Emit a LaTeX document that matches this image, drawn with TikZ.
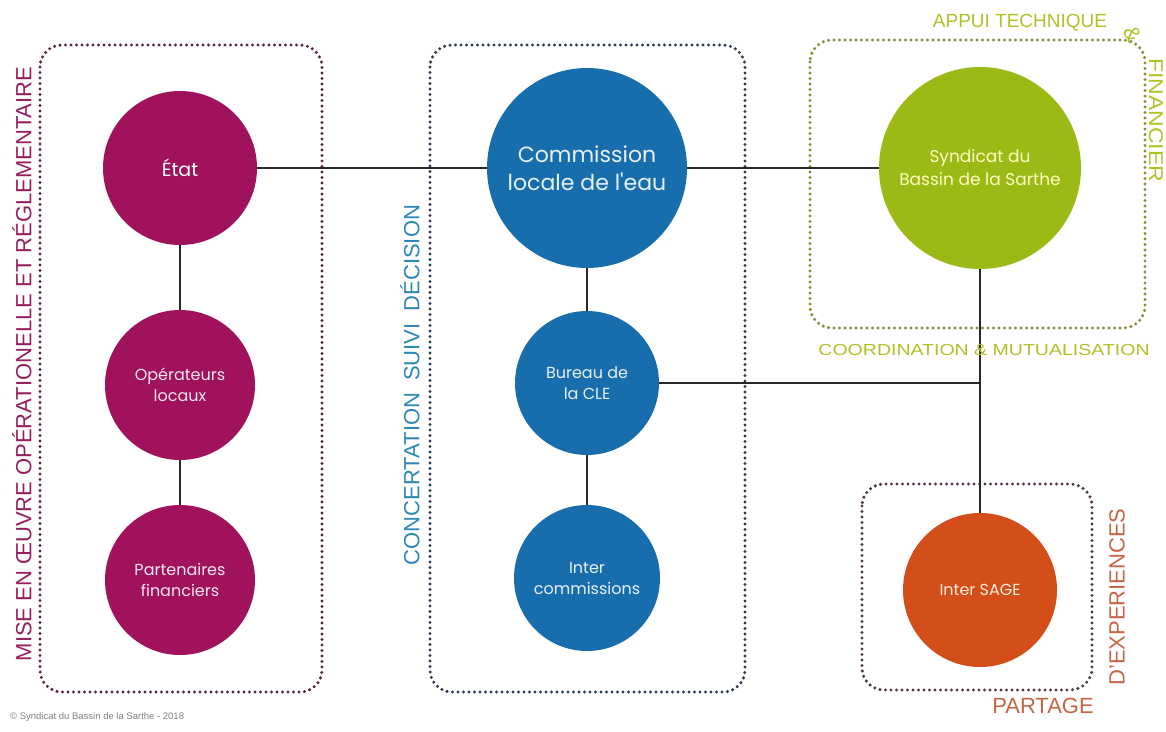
\documentclass[tikz,border=0pt]{standalone}
\usepackage{fontspec}
\setmainfont{Liberation Sans}
\newfontfamily\circfont{Poppins}
\definecolor{cmag}{RGB}{160,18,92}
\definecolor{cblue}{RGB}{24,110,172}
\definecolor{cgreen}{RGB}{155,186,22}
\definecolor{corange}{RGB}{212,78,26}
\definecolor{lmag}{RGB}{150,30,95}
\definecolor{lblue}{RGB}{45,135,180}
\definecolor{lgreen}{RGB}{170,196,40}
\definecolor{lorange}{RGB}{200,100,70}
\definecolor{dmag}{RGB}{85,35,70}
\definecolor{dblue}{RGB}{45,60,80}
\definecolor{dgreen}{RGB}{125,145,55}
\definecolor{dorange}{RGB}{80,60,55}
\definecolor{linecol}{RGB}{40,40,40}
\begin{document}
\begin{tikzpicture}[x=1pt,y=-1pt,
  dotbox/.style={line width=3.4pt, dash pattern=on 0pt off 5.5pt, line cap=round, rounded corners=22pt},
  bubble/.style={circle, inner sep=0pt, align=center, font=\circfont},
  conn/.style={draw=linecol, line width=1.3pt},
  vlabel/.style={inner sep=0pt, font=\fontsize{22}{24}\selectfont}
]
\useasboundingbox (0,0) rectangle (1166,731);
% boxes
\draw[dotbox, draw=dmag] (40,45) rectangle (322,692);
\draw[dotbox, draw=dblue] (430,45) rectangle (745,692);
\draw[dotbox, draw=dgreen] (810,40) rectangle (1145,328);
\draw[dotbox, draw=dorange] (862,484) rectangle (1092,690);
% circles
\node[bubble, fill=cmag, minimum size=154pt, text=white, font=\circfont\fontsize{19}{22}\selectfont] (etat) at (180,168) {État};
\node[bubble, fill=cmag, minimum size=150pt, text=white!90!cmag, font=\circfont\fontsize{16}{21}\selectfont] (oper) at (180,385) {Opérateurs\\locaux};
\node[bubble, fill=cmag, minimum size=150pt, text=white!90!cmag, font=\circfont\fontsize{16}{21}\selectfont] (part) at (180,580) {Partenaires\\financiers};
\node[bubble, fill=cblue, minimum size=200pt, text=white!90!cblue, font=\circfont\fontsize{22}{28}\selectfont] (cle) at (587,168) {Commission\\locale de l'eau};
\node[bubble, fill=cblue, minimum size=144pt, text=white!90!cblue, font=\circfont\fontsize{16}{21}\selectfont] (bur) at (587,383) {Bureau de\\la CLE};
\node[bubble, fill=cblue, minimum size=146pt, text=white!90!cblue, font=\circfont\fontsize{16}{21}\selectfont] (ic) at (587,578) {Inter\\commissions};
\node[bubble, fill=cgreen, minimum size=202pt, text=yellow!25!white, font=\circfont\fontsize{17}{23}\selectfont] (sbs) at (980,168) {Syndicat du\\Bassin de la Sarthe};
\node[bubble, fill=corange, minimum size=154pt, text=orange!15!white, font=\circfont\fontsize{16}{20}\selectfont] (isage) at (980,590) {Inter SAGE};
\coordinate (junc) at (980,383);
% connectors
\draw[conn] (etat) -- (cle);
\draw[conn] (cle) -- (sbs);
\draw[conn] (etat) -- (oper);
\draw[conn] (oper) -- (part);
\draw[conn] (cle) -- (bur);
\draw[conn] (bur) -- (ic);
\draw[conn] (sbs) -- (isage);
\draw[conn] (bur) -- (junc);
% labels
\node[vlabel, text=lmag, rotate=90] (l1) at (22,364) {MISE EN ŒUVRE OPÉRATIONELLE ET RÉGLEMENTAIRE};
\node[vlabel, text=lblue, rotate=90] (l2) at (410,385) {CONCERTATION\hspace{12pt}SUIVI\hspace{12pt}DÉCISION};
\node[inner sep=0pt, text=lgreen, font=\fontsize{19}{21}\selectfont] (l3) at (1020,23) {APPUI TECHNIQUE};
\node[inner sep=0pt, text=lgreen, font=\fontsize{22}{24}\selectfont, rotate=-60] (l4) at (1133,34) {\&};
\node[inner sep=0pt, text=lgreen, font=\fontsize{20}{22}\selectfont, rotate=-90] (l5) at (1156,120) {\scalebox{1.15}[1]{FINANCIER}};
\node[inner sep=0pt, text=lgreen, font=\fontsize{16}{18}\selectfont] (l6) at (984,350) {\scalebox{1.22}[1]{COORDINATION \& MUTUALISATION}};
\node[inner sep=0pt, text=lorange, font=\fontsize{22}{24}\selectfont, rotate=90] (l7) at (1117,597) {D'EXPERIENCES};
\node[inner sep=0pt, text=lorange, font=\fontsize{22}{24}\selectfont] (l8) at (1043,706) {PARTAGE};
\node[inner sep=0pt, anchor=west, text=gray, font=\fontsize{9.5}{11}\selectfont] (copy) at (10,717) {© Syndicat du Bassin de la Sarthe - 2018};
\end{tikzpicture}
\end{document}
